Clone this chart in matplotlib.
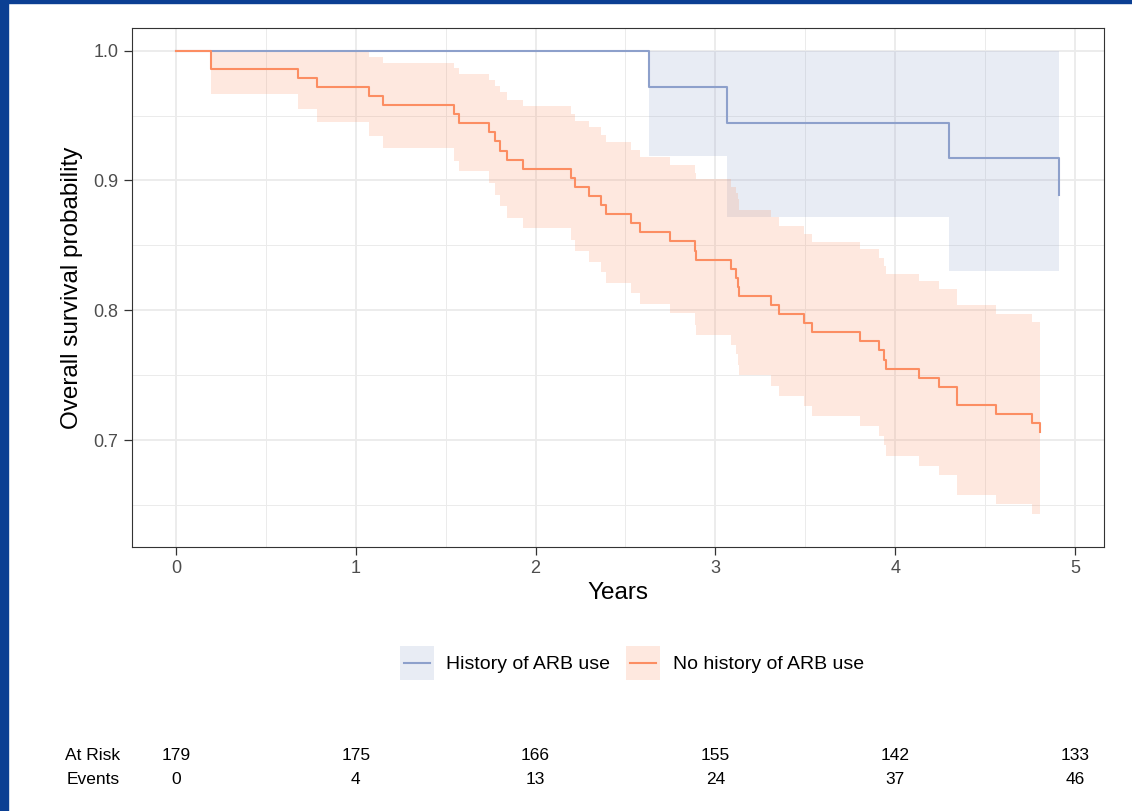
import matplotlib
matplotlib.use("Agg")
import matplotlib.pyplot as plt
from matplotlib.patches import Patch, Rectangle
from matplotlib.lines import Line2D
from matplotlib.legend_handler import HandlerLine2D
from matplotlib.ticker import MultipleLocator
import matplotlib.transforms as mtransforms

plt.rcParams['font.family'] = ['Liberation Sans', 'DejaVu Sans']

# Kaplan-Meier estimates
blue_time = [0, 2.632, 3.063, 4.301, 4.913]
blue_surv = [1.0, 0.972, 0.944, 0.917, 0.889]
blue_upper = [1.0, 1.0, 1.0, 1.0, 1.0]
blue_lower = [1.0, 0.919, 0.872, 0.830, 0.792]

orange_time = [0, 0.195, 0.680, 0.784, 1.075, 1.153, 1.548, 1.572, 1.743, 1.774,
               1.802, 1.839, 1.928, 2.197, 2.219, 2.295, 2.366, 2.393, 2.531, 2.581,
               2.750, 2.886, 2.892, 3.085, 3.112, 3.123, 3.134, 3.309, 3.356, 3.491,
               3.539, 3.804, 3.908, 3.938, 3.947, 4.130, 4.244, 4.344, 4.562, 4.759,
               4.805]
orange_surv = [1.0, 0.986, 0.979, 0.972, 0.965, 0.958, 0.951, 0.944, 0.937, 0.930,
               0.923, 0.916, 0.909, 0.902, 0.895, 0.888, 0.881, 0.874, 0.867, 0.860,
               0.853, 0.846, 0.839, 0.832, 0.825, 0.818, 0.811, 0.804, 0.797, 0.790,
               0.783, 0.776, 0.769, 0.762, 0.755, 0.748, 0.741, 0.727, 0.720, 0.713,
               0.706]
orange_upper = [1.0, 1.0, 1.0, 1.0, 0.995, 0.9905, 0.9864, 0.982, 0.977, 0.973,
                0.968, 0.962, 0.957, 0.951, 0.946, 0.941, 0.935, 0.9295, 0.9236, 0.918,
                0.912, 0.906, 0.9008, 0.895, 0.890, 0.8854, 0.8775, 0.872, 0.865, 0.859,
                0.8525, 0.847, 0.8405, 0.834, 0.828, 0.8223, 0.816, 0.804, 0.7974, 0.791,
                0.784]
orange_lower = [1.0, 0.9667, 0.955, 0.945, 0.9346, 0.925, 0.915, 0.907, 0.898, 0.8885,
                0.880, 0.871, 0.863, 0.854, 0.846, 0.837, 0.8295, 0.821, 0.813, 0.805,
                0.7975, 0.789, 0.781, 0.773, 0.766, 0.758, 0.750, 0.7415, 0.734, 0.726,
                0.7187, 0.711, 0.703, 0.696, 0.688, 0.680, 0.673, 0.658, 0.6505, 0.643,
                0.636]

group_labels = ["History of ARB use", "No history of ARB use"]

table_times = [0, 1, 2, 3, 4, 5]
at_risk = [179, 175, 166, 155, 142, 133]
events = [0, 4, 13, 24, 37, 46]

blue = '#8DA0CB'
orange = '#FC8D62'


class CenteredLine(HandlerLine2D):
    # keep the legend line in the middle of the filled key
    def create_artists(self, legend, orig_handle, xdescent, ydescent, width, height, fontsize, trans):
        y = height / 2 - ydescent
        line = Line2D([-xdescent + 3, width - xdescent - 3], [y, y],
                      color=orig_handle.get_color(), lw=orig_handle.get_linewidth())
        line.set_transform(trans)
        return [line]


fig = plt.figure(figsize=(11.32, 8.11), dpi=100)
ax = fig.add_axes([0.11643, 0.32614, 0.85848, 0.63896])

# bands
ax.fill_between(blue_time, blue_lower, blue_upper, step='post', color=blue, alpha=0.2, lw=0)
ax.fill_between(orange_time, orange_lower, orange_upper, step='post', color=orange, alpha=0.2, lw=0)
# curves
ax.step(blue_time, blue_surv, where='post', color=blue, lw=1.5)
ax.step(orange_time, orange_surv, where='post', color=orange, lw=1.5)

ax.set_xlim(-0.2457, 5.159)
ax.set_ylim(0.618, 1.0172)
ax.xaxis.set_major_locator(MultipleLocator(1))
ax.xaxis.set_minor_locator(MultipleLocator(0.5))
ax.set_yticks([0.7, 0.8, 0.9, 1.0])
ax.set_yticklabels(['0.7', '0.8', '0.9', '1.0'])
ax.yaxis.set_minor_locator(MultipleLocator(0.05))
ax.grid(True, which='major', color='#EBEBEB', lw=1.3)
ax.grid(True, which='minor', color='#EBEBEB', lw=0.7)
ax.set_axisbelow(True)
for s in ax.spines.values():
    s.set_color('#333333')
    s.set_linewidth(0.8)
ax.tick_params(which='major', length=5.5, width=0.9, color='#333333',
               labelcolor='#4D4D4D', labelsize=13, pad=4)
ax.tick_params(which='minor', length=0)

fig.text(0.5457, 1 - 593 / 811, 'Years', ha='center', va='center', fontsize=17.5, color='black')
fig.text(72 / 1132, 1 - 288 / 811, 'Overall survival probability', rotation=90,
         ha='center', va='center', fontsize=17.5, color='black')

handles = [(Patch(facecolor=blue, alpha=0.2, lw=0), Line2D([], [], color=blue, lw=1.5)),
           (Patch(facecolor=orange, alpha=0.2, lw=0), Line2D([], [], color=orange, lw=1.5))]
fig.legend(handles, group_labels, loc='center', bbox_to_anchor=(0.558, 1 - 663 / 811),
           ncol=2, frameon=False, fontsize=14, handlelength=1.75, handleheight=2.3,
           handletextpad=0.65, columnspacing=0.8, handler_map={Line2D: CenteredLine()})

# numbers below the plot
trans = mtransforms.blended_transform_factory(ax.transData, fig.transFigure)
fig.text(120 / 1132, 1 - 755 / 811, 'At Risk', ha='right', va='center', fontsize=12.5)
fig.text(120 / 1132, 1 - 780 / 811, 'Events', ha='right', va='center', fontsize=12.5)
for t, r, e in zip(table_times, at_risk, events):
    fig.text(t, 1 - 755 / 811, str(r), ha='center', va='center', fontsize=12.5, transform=trans)
    fig.text(t, 1 - 780 / 811, str(e), ha='center', va='center', fontsize=12.5, transform=trans)

# blue frame at the left and top edge
fig.patches.append(Rectangle((0, 0), 8 / 1132, 1, transform=fig.transFigure,
                             color='#0B3F93', zorder=10))
fig.patches.append(Rectangle((0, 1 - 3 / 811), 1, 3 / 811, transform=fig.transFigure,
                             color='#0B3F93', zorder=10))

fig.savefig('out.png', dpi=100)
